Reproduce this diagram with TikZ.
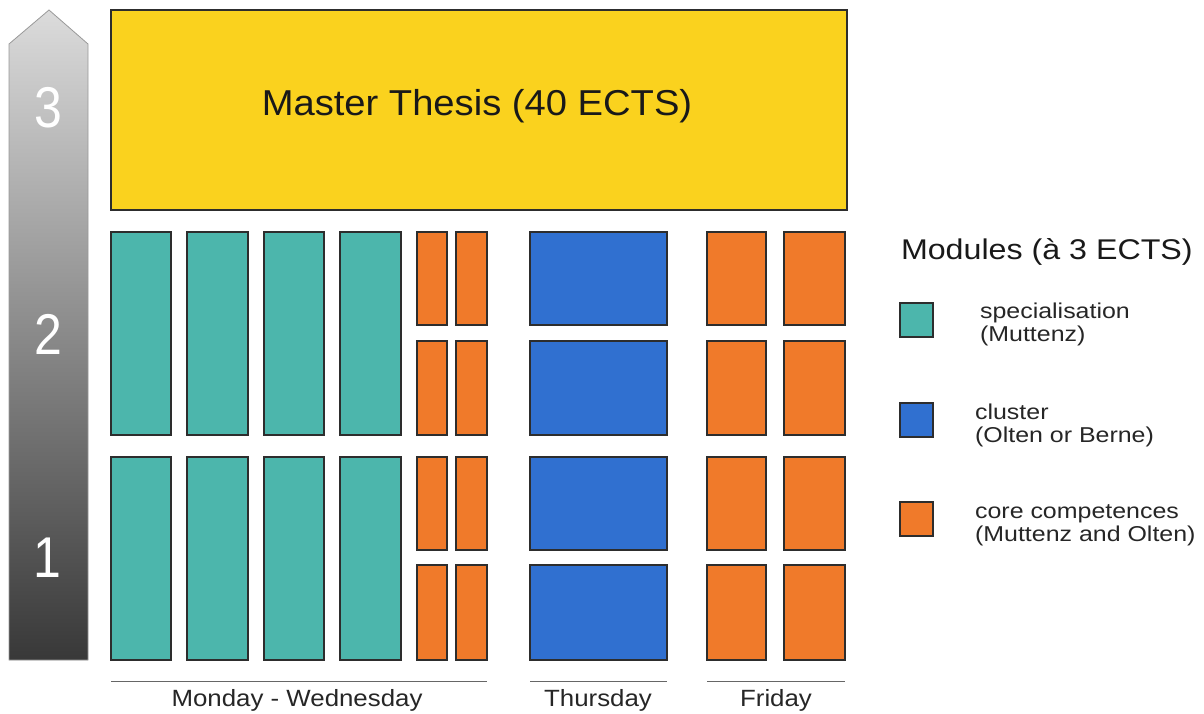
\documentclass[tikz,border=0pt]{standalone}
\usepackage{fontspec}
\setmainfont{Liberation Sans}
\definecolor{thesisY}{RGB}{250,210,30}
\definecolor{specT}{RGB}{76,182,172}
\definecolor{clusB}{RGB}{48,112,208}
\definecolor{coreO}{RGB}{240,122,42}
\definecolor{edgeC}{RGB}{45,45,45}
\newcommand\cell[6]{%
  \node[#1, minimum width={(#5)-(#3)}, minimum height={(#6)-(#4)}] (#2) at ({((#3)+(#5))/2},{((#4)+(#6))/2}) {};}
\begin{document}
\begin{tikzpicture}[x=1pt,y=-1pt,
  box/.style={draw=edgeC, line width=1.1pt, inner sep=0pt, outer sep=0pt, rectangle},
  spec/.style={box, fill=specT},
  clus/.style={box, fill=clusB},
  core/.style={box, fill=coreO},
  thesis/.style={box, fill=thesisY},
  daylabel/.style={font=\fontsize{23.5}{26}\selectfont, text=black!85, xscale=1.1},
  legtext/.style={anchor=west, align=left, font=\fontsize{21.5}{23}\selectfont, text=black!85, xscale=1.16},
  yearnum/.style={text=white, font=\fontsize{50}{54}\selectfont, yscale=1.15},
  dayline/.style={draw=black!60, line width=1pt}]
\useasboundingbox (0,0) rectangle (1204,714);
% year arrow
\shade[top color=black!14, bottom color=black!78, draw=black!40, line width=0.8pt]
  (9,44) -- (49,10) -- (88,44) -- (88,660) -- (9,660) -- cycle;
\node[yearnum] (y3) at (48,108) {3};
\node[yearnum] (y2) at (48,334) {2};
\node[yearnum] (y1) at (47,558) {1};
% thesis
\cell{thesis}{thesis}{111}{10}{847}{210}
\node[font=\fontsize{36}{40}\selectfont, text=black!90, xscale=1.06] (thesistext) at (477,106) {Master Thesis (40 ECTS)};
% specialisation columns
\cell{spec}{s1a}{111}{232}{171}{435}
\cell{spec}{s2a}{187}{232}{248}{435}
\cell{spec}{s3a}{264}{232}{324}{435}
\cell{spec}{s4a}{340}{232}{401}{435}
\cell{spec}{s1b}{111}{457}{171}{660}
\cell{spec}{s2b}{187}{457}{248}{660}
\cell{spec}{s3b}{264}{457}{324}{660}
\cell{spec}{s4b}{340}{457}{401}{660}
% small core boxes Mon-Wed
\cell{core}{c1a}{417}{232}{447}{325}
\cell{core}{c2a}{456}{232}{487}{325}
\cell{core}{c1b}{417}{341}{447}{435}
\cell{core}{c2b}{456}{341}{487}{435}
\cell{core}{c1c}{417}{457}{447}{550}
\cell{core}{c2c}{456}{457}{487}{550}
\cell{core}{c1d}{417}{565}{447}{660}
\cell{core}{c2d}{456}{565}{487}{660}
% cluster Thursday
\cell{clus}{b1}{530}{232}{667}{325}
\cell{clus}{b2}{530}{341}{667}{435}
\cell{clus}{b3}{530}{457}{667}{550}
\cell{clus}{b4}{530}{565}{667}{660}
% core Friday
\cell{core}{f1a}{707}{232}{766}{325}
\cell{core}{f2a}{784}{232}{845}{325}
\cell{core}{f1b}{707}{341}{766}{435}
\cell{core}{f2b}{784}{341}{845}{435}
\cell{core}{f1c}{707}{457}{766}{550}
\cell{core}{f2c}{784}{457}{845}{550}
\cell{core}{f1d}{707}{565}{766}{660}
\cell{core}{f2d}{784}{565}{845}{660}
% day lines and labels
\coordinate (mwL) at (111,681); \coordinate (mwR) at (487,681);
\coordinate (thL) at (530,681); \coordinate (thR) at (667,681);
\coordinate (frL) at (707,681); \coordinate (frR) at (845,681);
\draw[dayline] (mwL) -- (mwR);
\draw[dayline] (thL) -- (thR);
\draw[dayline] (frL) -- (frR);
\node[daylabel] (mw) at (297,700) {Monday - Wednesday};
\node[daylabel] (th) at (598,700) {Thursday};
\node[daylabel] (fr) at (776,700) {Friday};
% legend
\node[anchor=west, font=\fontsize{28.5}{30}\selectfont, text=black!90, xscale=1.13] (legtitle) at (897,252) {Modules (à 3 ECTS)};
\cell{spec}{lspec}{900}{303}{933}{337}
\cell{clus}{lclus}{900}{403}{933}{437}
\cell{core}{lcore}{900}{502}{933}{536}
\node[legtext] (tspec) at (976,324) {specialisation\\(Muttenz)};
\node[legtext] (tclus) at (971,425) {cluster\\(Olten or Berne)};
\node[legtext] (tcore) at (971,525) {core competences\\(Muttenz and Olten)};
\end{tikzpicture}
\end{document}
